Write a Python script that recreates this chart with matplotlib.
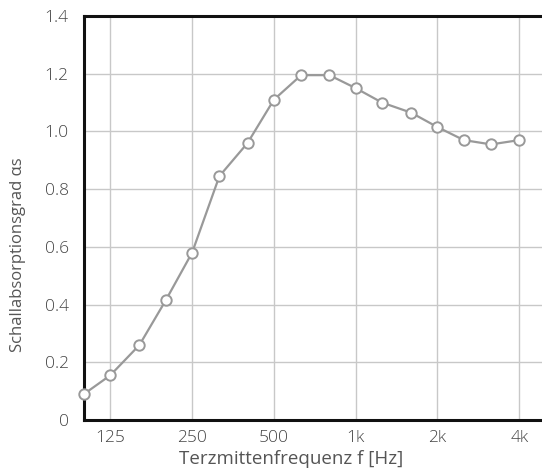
import matplotlib
matplotlib.use("Agg")
import matplotlib.pyplot as plt
from matplotlib.ticker import FixedLocator, FixedFormatter, NullLocator

freqs = [100, 125, 160, 200, 250, 315, 400, 500, 630, 800, 1000, 1250, 1600, 2000, 2500, 3150, 4000]
alpha = [0.09, 0.155, 0.26, 0.415, 0.58, 0.845, 0.96, 1.11, 1.195, 1.195, 1.15, 1.10, 1.065, 1.015, 0.97, 0.955, 0.97]
xtick_vals = [125, 250, 500, 1000, 2000, 4000]
xtick_labels = ["125", "250", "500", "1k", "2k", "4k"]
ytick_vals = [0, 0.2, 0.4, 0.6, 0.8, 1.0, 1.2, 1.4]
ytick_labels = ["0", "0.2", "0.4", "0.6", "0.8", "1.0", "1.2", "1.4"]

plt.rcParams['font.family'] = ['Open Sans', 'DejaVu Sans']
plt.rcParams['font.weight'] = 'light'
txt = '#444444'

fig = plt.figure(figsize=(5.42, 4.72), dpi=100)
ax = fig.add_axes([84/542, 52/472, 1 - 84/542, (420-16)/472])
ax.set_xscale('log')
ax.set_xlim(100, 4850)
ax.set_ylim(0, 1.4)

ax.plot(freqs, alpha, color='#999999', lw=1.6, marker='o', markersize=7.5,
        markerfacecolor='white', markeredgecolor='#999999', markeredgewidth=1.4,
        zorder=3, clip_on=False)

ax.xaxis.set_major_locator(FixedLocator(xtick_vals))
ax.xaxis.set_major_formatter(FixedFormatter(xtick_labels))
ax.xaxis.set_minor_locator(NullLocator())
ax.set_yticks(ytick_vals)
ax.set_yticklabels(ytick_labels)

ax.grid(True, color='#c8c8c8', lw=1.0, zorder=0)
ax.set_axisbelow(True)
ax.tick_params(axis='y', length=0, labelsize=12.5, colors=txt, pad=11)
ax.tick_params(axis='x', length=0, labelsize=12.5, colors=txt, pad=7)

for s in ['left', 'bottom', 'top']:
    ax.spines[s].set_linewidth(2.2)
    ax.spines[s].set_color('#111111')
ax.spines['right'].set_visible(False)

ax.set_xlabel('Terzmittenfrequenz f [Hz]', fontsize=13.5, color='#555555', fontweight='normal')
ax.set_ylabel('Schallabsorptionsgrad αs', fontsize=12, color='#555555', fontweight='normal')
ax.xaxis.set_label_coords(0.452, -0.074)
ax.yaxis.set_label_coords(-0.127, 0.408)

fig.savefig('out.png', dpi=100)
